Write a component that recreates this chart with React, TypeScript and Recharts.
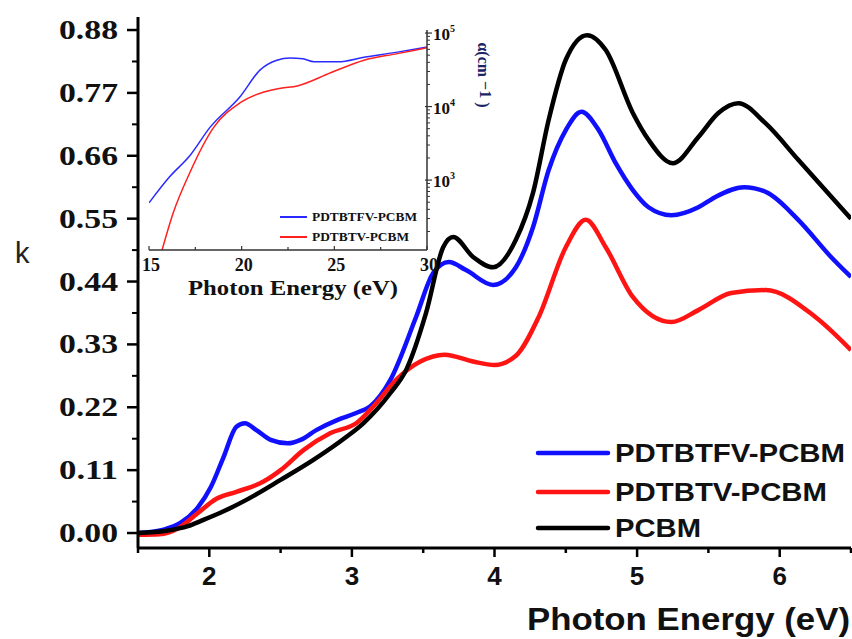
import React from 'react';
import { LineChart, Line, XAxis, YAxis, Legend } from 'recharts';

// Extinction coefficient k vs photon energy (eV)
const pdtbtfvE = [1.5, 1.68, 1.8, 1.92, 2.01, 2.1, 2.19, 2.25, 2.33, 2.43, 2.55, 2.64, 2.75, 2.9, 3.03, 3.13, 3.27, 3.45, 3.57, 3.68, 3.8, 3.99, 4.15, 4.27, 4.38, 4.5, 4.61, 4.73, 4.85, 4.97, 5.08, 5.24, 5.43, 5.55, 5.75, 5.9, 6.13, 6.36, 6.5];
const pdtbtfvK = [0.0, 0.006, 0.018, 0.045, 0.08, 0.133, 0.186, 0.192, 0.18, 0.163, 0.157, 0.163, 0.18, 0.198, 0.21, 0.222, 0.268, 0.378, 0.455, 0.474, 0.46, 0.434, 0.465, 0.535, 0.635, 0.705, 0.737, 0.705, 0.647, 0.6, 0.57, 0.556, 0.57, 0.588, 0.605, 0.597, 0.548, 0.483, 0.448];

const pdtbtvE = [1.5, 1.65, 1.78, 1.92, 2.05, 2.19, 2.38, 2.5, 2.66, 2.85, 3.03, 3.17, 3.31, 3.48, 3.65, 3.85, 4.0, 4.15, 4.31, 4.5, 4.64, 4.78, 4.97, 5.24, 5.43, 5.66, 5.9, 6.25, 6.5];
const pdtbtvK = [-0.003, -0.002, 0.008, 0.035, 0.06, 0.072, 0.09, 0.11, 0.145, 0.175, 0.192, 0.227, 0.268, 0.3, 0.312, 0.3, 0.294, 0.31, 0.378, 0.5, 0.548, 0.5, 0.413, 0.369, 0.39, 0.42, 0.425, 0.378, 0.32];

const pcbmE = [1.5, 1.7, 1.85, 1.95, 2.1, 2.26, 2.5, 2.73, 2.96, 3.08, 3.27, 3.38, 3.52, 3.64, 3.71, 3.85, 3.99, 4.15, 4.27, 4.38, 4.5, 4.65, 4.78, 4.97, 5.08, 5.25, 5.43, 5.57, 5.71, 5.9, 6.13, 6.5];
const pcbmK = [0.0, 0.004, 0.012, 0.022, 0.038, 0.058, 0.093, 0.128, 0.168, 0.192, 0.245, 0.285, 0.385, 0.5, 0.518, 0.483, 0.465, 0.513, 0.595, 0.723, 0.828, 0.871, 0.845, 0.735, 0.688, 0.647, 0.693, 0.735, 0.752, 0.717, 0.653, 0.55];

const kTicks = [0, 0.11, 0.22, 0.33, 0.44, 0.55, 0.66, 0.77, 0.88];
const eTicks = [2, 3, 4, 5, 6];

// Inset: absorption coefficient alpha (cm^-1), 15-30 eV
const insetFvE = [15, 16.1, 17.2, 18.3, 19.9, 21.0, 21.9, 22.6, 23.3, 23.9, 25.2, 26.6, 28.4, 30];
const insetFvAlpha = [490, 1100, 2140, 5250, 13500, 31600, 42700, 45700, 44700, 40700, 40700, 46800, 55000, 64600];
const insetTvE = [15.65, 16.3, 17.2, 18.5, 19.9, 21.2, 22.1, 23.0, 24.8, 26.6, 28.4, 30];
const insetTvAlpha = [100, 355, 1260, 5250, 11200, 15800, 17800, 19100, 28800, 42700, 52500, 63100];

const insetETicks = [15, 20, 25, 30];
const alphaDecades = [1000, 10000, 100000];

const zip = (e: number[], v: number[]) => e.map((x, i) => ({ e: x, v: v[i] }));

const SERIF = '"Liberation Serif", "Times New Roman", serif';
const SANS = '"Liberation Sans", Arial, sans-serif';

const series = [
  { name: 'PDTBTFV-PCBM', color: '#1010ff', data: zip(pdtbtfvE, pdtbtfvK), len: 230 },
  { name: 'PDTBTV-PCBM', color: '#ff1414', data: zip(pdtbtvE, pdtbtvK), len: 212 },
  { name: 'PCBM', color: '#000000', data: zip(pcbmE, pcbmK), len: 86 },
];

const insetSeries = [
  { name: 'PDTBTFV-PCBM', color: '#2a2aff', data: zip(insetFvE, insetFvAlpha), len: 105 },
  { name: 'PDTBTV-PCBM', color: '#ff2020', data: zip(insetTvE, insetTvAlpha), len: 97 },
];

const kAllTicks = [...kTicks, ...kTicks.slice(1).map((t) => t - 0.055)];
const eAllTicks = [1.5, 2, 2.5, 3, 3.5, 4, 4.5, 5, 5.5, 6, 6.5];
const insetEAllTicks = [15, 17.5, 20, 22.5, 25, 27.5, 30];
const alphaAllTicks = [...alphaDecades, ...[100, 1000, 10000].flatMap((d) => [2, 3, 4, 5, 6, 7, 8, 9].map((m) => d * m))];

const isMajorK = (v: number) => kTicks.some((t) => Math.abs(t - v) < 1e-6);

function KTick({ x, y, payload }: any) {
  const v = payload.value;
  if (!isMajorK(v)) {
    return <line x1={x - 6} x2={x} y1={y} y2={y} stroke="#000" strokeWidth={2} />;
  }
  return (
    <g>
      <line x1={x - 11} x2={x} y1={y} y2={y} stroke="#000" strokeWidth={2.5} />
      <text x={x - 79} y={y + 9} fontFamily={SERIF} fontWeight="bold" fontSize={27} textLength={59} lengthAdjust="spacingAndGlyphs" fill="#111">
        {v.toFixed(2)}
      </text>
    </g>
  );
}

function ETick({ x, y, payload }: any) {
  const v = payload.value;
  const major = eTicks.includes(v);
  return (
    <g>
      <line x1={x} x2={x} y1={y} y2={y + (major ? 9 : 5)} stroke="#000" strokeWidth={2.5} />
      {major && (
        <text x={x} y={y + 37} textAnchor="middle" fontFamily={SANS} fontWeight="bold" fontSize={26} fill="#111">
          {v}
        </text>
      )}
    </g>
  );
}

function KLabel({ viewBox }: any) {
  return (
    <text x={viewBox.x + 15} y={263} fontFamily={SANS} fontSize={29} fill="#222">
      k
    </text>
  );
}

function EnergyTitle({ viewBox }: any) {
  return (
    <text x={527} y={viewBox.y + 82} fontFamily={SANS} fontWeight="bold" fontSize={32} textLength={323} lengthAdjust="spacingAndGlyphs" fill="#111">
      Photon Energy (eV)
    </text>
  );
}

function MainLegend() {
  const rows = [23, 62, 98];
  return (
    <svg width={322} height={115}>
      {series.map((s, i) => (
        <g key={s.name}>
          <line x1={8} x2={78} y1={rows[i]} y2={rows[i]} stroke={s.color} strokeWidth={4.5} strokeLinecap="round" />
          <text x={85} y={rows[i] + 9} fontFamily={SANS} fontWeight="bold" fontSize={25} textLength={s.len} lengthAdjust="spacingAndGlyphs" fill="#111">
            {s.name}
          </text>
        </g>
      ))}
    </svg>
  );
}

function InsetETick({ x, y, payload }: any) {
  const v = payload.value;
  const major = insetETicks.includes(v);
  return (
    <g>
      <line x1={x} x2={x} y1={y} y2={y - (major ? 4 : 3)} stroke="#333" strokeWidth={1.2} />
      {major && (
        <text x={x + 2} y={y + 21} textAnchor="middle" fontFamily={SERIF} fontWeight="bold" fontSize={18} fill="#111">
          {v}
        </text>
      )}
    </g>
  );
}

function AlphaTick({ x, y, payload }: any) {
  const v = payload.value;
  const major = alphaDecades.includes(v);
  if (!major) {
    return <line x1={x} x2={x + 3} y1={y} y2={y} stroke="#333" strokeWidth={1} />;
  }
  return (
    <g>
      <line x1={x - 2} x2={x + 5} y1={y} y2={y} stroke="#333" strokeWidth={1.2} />
      <text x={x + 6} y={y + 7} fontFamily={SERIF} fontWeight="bold" fontSize={17} fill="#111">
        10
        <tspan dy={-8} fontSize={10}>
          {Math.round(Math.log10(v))}
        </tspan>
      </text>
    </g>
  );
}

function AlphaLabel({ viewBox }: any) {
  const cx = viewBox.x + 51;
  const cy = viewBox.y + 45;
  return (
    <text x={cx} y={cy} transform={`rotate(90 ${cx} ${cy})`} textAnchor="middle" fontFamily={SERIF} fontWeight="bold" fontSize={16} fill="#1a2466">
      α(cm
      <tspan dy={-2}> −1</tspan>
      <tspan dy={2}> )</tspan>
    </text>
  );
}

function InsetTitle({ viewBox }: any) {
  return (
    <text x={viewBox.x + 39} y={viewBox.y + 45} fontFamily={SERIF} fontWeight="bold" fontSize={22} textLength={210} lengthAdjust="spacingAndGlyphs" fill="#111">
      Photon Energy (eV)
    </text>
  );
}

function InsetLegend() {
  const rows = [12, 32];
  return (
    <svg width={150} height={45}>
      {insetSeries.map((s, i) => (
        <g key={s.name}>
          <line x1={5} x2={32} y1={rows[i]} y2={rows[i]} stroke={s.color} strokeWidth={2} />
          <text x={37} y={rows[i] + 4} fontFamily={SERIF} fontWeight="bold" fontSize={12} textLength={s.len} lengthAdjust="spacingAndGlyphs" fill="#111">
            {s.name}
          </text>
        </g>
      ))}
    </svg>
  );
}

const kDomain: [number, number] = [-0.0262, 0.9028];
const eDomain: [number, number] = [1.5, 6.5];
const alphaDomain: [number, number] = [112, 110000];

export default function App() {
  return (
    <div style={{ position: 'absolute', left: 0, top: 0, width: 852, height: 639, background: '#fff' }}>
      <LineChart width={852} height={639} margin={{ top: 17, right: 1, bottom: 0, left: 0 }}>
        <XAxis
          dataKey="e"
          type="number"
          domain={eDomain}
          allowDataOverflow
          ticks={eAllTicks}
          interval={0}
          tickLine={false}
          tickSize={0}
          tickMargin={0}
          tick={<ETick />}
          height={91}
          axisLine={{ stroke: '#000', strokeWidth: 3 }}
          label={<EnergyTitle />}
        />
        <XAxis xAxisId="top" orientation="top" type="number" domain={eDomain} height={0} tick={false} tickLine={false} axisLine={{ stroke: '#000', strokeWidth: 3 }} />
        <YAxis
          type="number"
          domain={kDomain}
          allowDataOverflow
          ticks={kAllTicks}
          interval={0}
          tickLine={false}
          tickSize={0}
          tickMargin={0}
          tick={<KTick />}
          width={138}
          axisLine={{ stroke: '#000', strokeWidth: 3 }}
          label={<KLabel />}
        />
        <YAxis yAxisId="right" orientation="right" type="number" domain={kDomain} width={0} tick={false} tickLine={false} axisLine={{ stroke: '#000', strokeWidth: 3 }} />
        {series.map((s) => (
          <Line
            key={s.name}
            data={s.data}
            dataKey="v"
            name={s.name}
            type="monotone"
            stroke={s.color}
            strokeWidth={4.5}
            dot={false}
            isAnimationActive={false}
          />
        ))}
        <Legend layout="vertical" align="center" verticalAlign="middle" wrapperStyle={{ left: 530, top: 430, width: 322, height: 115 }} content={() => <MainLegend />} />
      </LineChart>

      <div style={{ position: 'absolute', left: 140, top: 20, pointerEvents: 'none' }}>
        <LineChart width={360} height={285} margin={{ top: 10, right: 0, bottom: 0, left: 9 }}>
          <XAxis
            dataKey="e"
            type="number"
            domain={[15, 30]}
            allowDataOverflow
            ticks={insetEAllTicks}
            interval={0}
            tickLine={false}
            tickSize={0}
            tickMargin={0}
            tick={<InsetETick />}
            height={55}
            axisLine={{ stroke: '#333', strokeWidth: 1.5 }}
            label={<InsetTitle />}
          />
          <XAxis xAxisId="top" orientation="top" type="number" domain={[15, 30]} height={0} tick={false} tickLine={false} axisLine={{ stroke: '#333', strokeWidth: 1.5 }} />
          <YAxis yAxisId="left" type="number" scale="log" domain={alphaDomain} width={0} tick={false} tickLine={false} axisLine={{ stroke: '#333', strokeWidth: 1.5 }} />
          <YAxis
            yAxisId="alpha"
            orientation="right"
            type="number"
            scale="log"
            domain={alphaDomain}
            allowDataOverflow
            ticks={alphaAllTicks}
            interval={0}
            tickLine={false}
            tickSize={0}
            tickMargin={0}
            tick={<AlphaTick />}
            width={73}
            axisLine={{ stroke: '#333', strokeWidth: 1.5 }}
            label={<AlphaLabel />}
          />
          {insetSeries.map((s) => (
            <Line
              key={s.name}
              yAxisId="alpha"
              data={s.data}
              dataKey="v"
              name={s.name}
              type="monotone"
              stroke={s.color}
              strokeWidth={1.5}
              dot={false}
              isAnimationActive={false}
            />
          ))}
          <Legend layout="vertical" align="center" verticalAlign="middle" wrapperStyle={{ left: 135, top: 185, width: 150, height: 45 }} content={() => <InsetLegend />} />
        </LineChart>
      </div>
    </div>
  );
}
